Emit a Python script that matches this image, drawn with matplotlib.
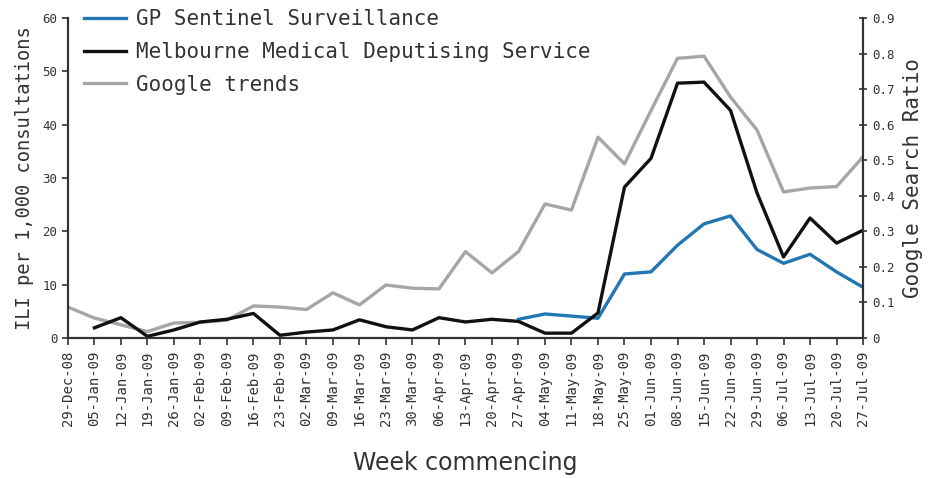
import matplotlib
matplotlib.use("Agg")
import matplotlib.pyplot as plt
import numpy as np

weeks = ['29-Dec-08', '05-Jan-09', '12-Jan-09', '19-Jan-09', '26-Jan-09', '02-Feb-09',
         '09-Feb-09', '16-Feb-09', '23-Feb-09', '02-Mar-09', '09-Mar-09', '16-Mar-09',
         '23-Mar-09', '30-Mar-09', '06-Apr-09', '13-Apr-09', '20-Apr-09', '27-Apr-09',
         '04-May-09', '11-May-09', '18-May-09', '25-May-09', '01-Jun-09', '08-Jun-09',
         '15-Jun-09', '22-Jun-09', '29-Jun-09', '06-Jul-09', '13-Jul-09', '20-Jul-09',
         '27-Jul-09']

# GP sentinel (ILI per 1,000), starts 27-Apr-09
gp_sentinel = [None] * 17 + [3.5, 4.5, 4.1, 3.7, 12.0, 12.4, 17.4, 21.4, 22.9,
                             16.6, 14.0, 15.7, 12.4, 9.5]
# Melbourne Medical Deputising Service (ILI per 1,000), starts 05-Jan-09
mmds = [None, 1.9, 3.8, 0.3, 1.5, 3.0, 3.5, 4.6, 0.5, 1.1, 1.5, 3.4, 2.1, 1.5, 3.8,
        3.0, 3.5, 3.1, 0.9, 0.9, 4.7, 28.3, 33.7, 47.8, 48.0, 42.7, 27.2, 15.2,
        22.5, 17.8, 20.2]
# Google search ratio
google = [0.087, 0.056, 0.037, 0.018, 0.042, 0.044, 0.050, 0.090, 0.087, 0.080,
          0.127, 0.093, 0.149, 0.140, 0.138, 0.243, 0.183, 0.243, 0.377, 0.360,
          0.565, 0.490, 0.640, 0.787, 0.793, 0.678, 0.585, 0.411, 0.422, 0.426,
          0.510]

mono = 'DejaVu Sans Mono'
x = np.arange(len(weeks))
gp = np.array([np.nan if v is None else v for v in gp_sentinel])
md = np.array([np.nan if v is None else v for v in mmds])

fig = plt.figure(figsize=(9.3, 4.78), dpi=100)
ax = fig.add_axes([0.073, 0.293, 0.855, 0.669])
ax2 = ax.twinx()

l1, = ax.plot(x, gp, color='#2277b2', lw=2.4, label='GP Sentinel Surveillance')
l2, = ax.plot(x, md, color='#111111', lw=2.4, label='Melbourne Medical Deputising Service')
l3, = ax2.plot(x, google, color='#a6a6a6', lw=2.4, label='Google trends')
ax.set_zorder(ax2.get_zorder() + 1)
ax.patch.set_visible(False)

ax.set_xlim(0, len(weeks) - 1)
ax.set_ylim(0, 60)
ax2.set_ylim(0, 0.9)
ax.set_yticks(range(0, 61, 10))
ax2.set_yticks(np.arange(0, 0.91, 0.1))
ax2.set_yticklabels(['0'] + ['%.1f' % v for v in np.arange(0.1, 0.91, 0.1)])
ax.set_xticks(x)
ax.set_xticklabels(weeks, rotation=90, fontsize=10, family=mono, color='#444444')

for a in (ax, ax2):
    a.spines['top'].set_visible(False)
    for s in a.spines.values():
        s.set_color('#333333')
        s.set_linewidth(1.5)
ax.tick_params(axis='y', labelsize=9, colors='#333333', length=4, width=1.2)
ax.tick_params(axis='x', length=5, width=1.2, colors='#333333', pad=4)
ax2.tick_params(axis='y', labelsize=9, colors='#333333', length=6, width=1.2,
                direction='inout')
for t in ax.get_yticklabels() + ax2.get_yticklabels():
    t.set_family(mono)

ax.set_ylabel('ILI per 1,000 consultations', family=mono, fontsize=13.5,
              color='#333333', labelpad=6)
ax2.set_ylabel('Google Search Ratio', family=mono, fontsize=15,
               color='#333333', labelpad=6)
ax.set_xlabel('Week commencing', fontsize=17, color='#333333', labelpad=18,
              family='Liberation Sans Narrow')

leg = ax.legend(handles=[l1, l2, l3], loc='upper left', frameon=False,
                prop={'family': mono, 'size': 15}, handlelength=2.0,
                handletextpad=0.5, labelspacing=0.62,
                bbox_to_anchor=(0.01, 1.055), borderaxespad=0)
for t in leg.get_texts():
    t.set_color('#333333')

fig.savefig('out.png', dpi=100)
